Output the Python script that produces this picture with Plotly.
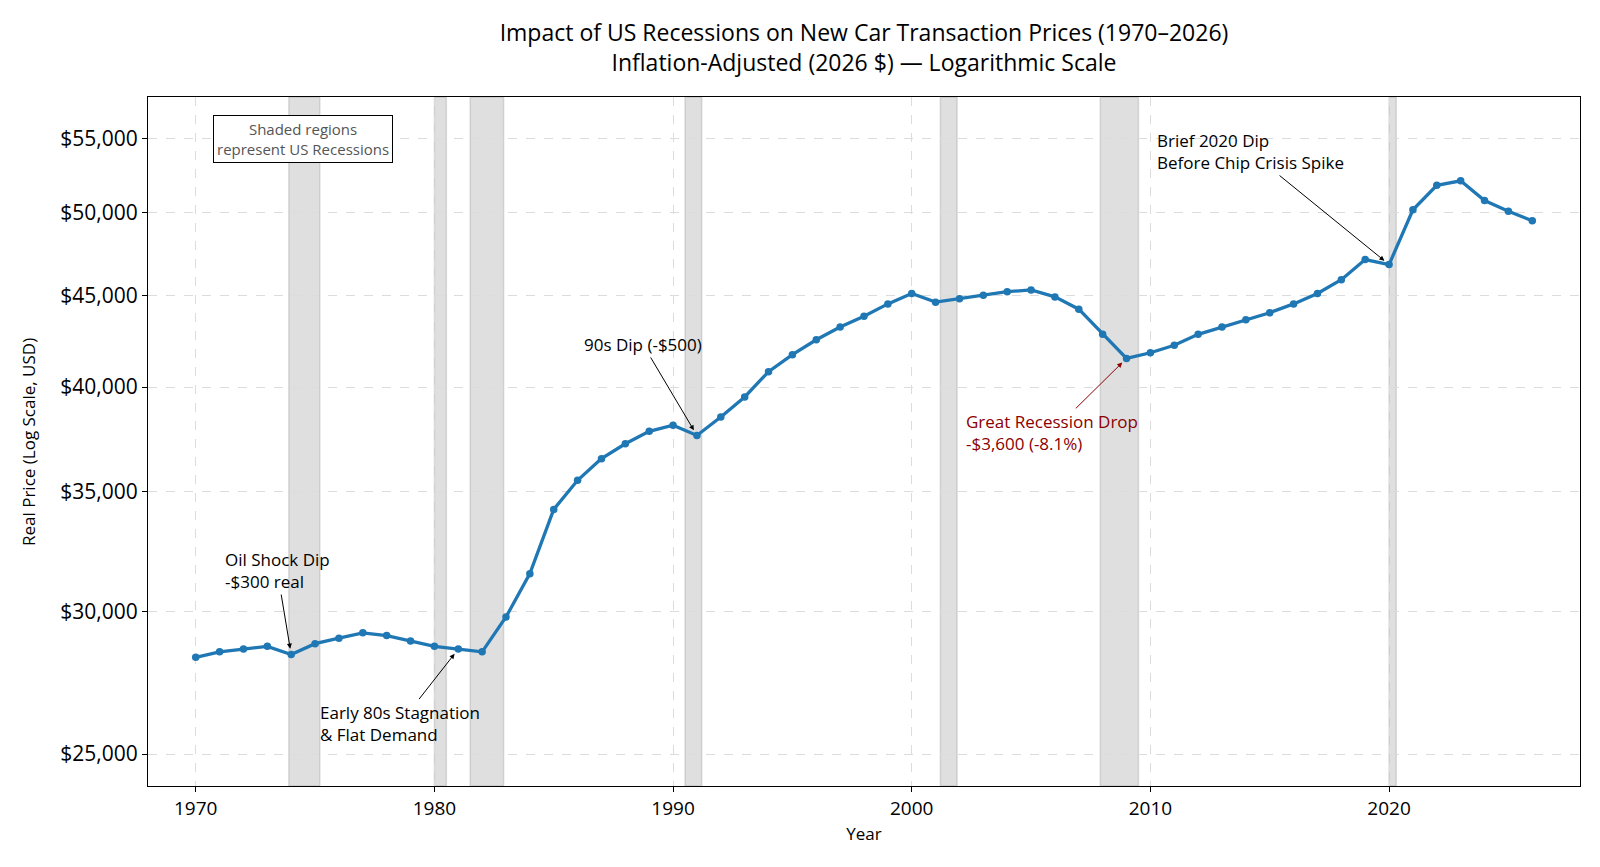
import math
import plotly.graph_objects as go

# ---------------- data ----------------
years = list(range(1970, 2027))
real_price = [
    28300, 28500, 28600, 28700, 28400, 28800, 29000, 29200, 29100, 28900,  # 1970-1979
    28700, 28600, 28500, 29800, 31500, 34200, 35500, 36500, 37200, 37800,  # 1980-1989
    38100, 37600, 38500, 39500, 40800, 41700, 42500, 43200, 43800, 44500,  # 1990-1999
    45100, 44600, 44800, 45000, 45200, 45300, 44900, 44200, 42800, 41500,  # 2000-2009
    41800, 42200, 42800, 43200, 43600, 44000, 44500, 45100, 45900, 47100,  # 2010-2019
    46800, 50200, 51800, 52100, 50800, 50100, 49500,                      # 2020-2026
]

recession_start = [1973.9, 1980.0, 1981.5, 1990.5, 2001.2, 2007.9, 2020.0]
recession_end = [1975.2, 1980.5, 1982.9, 1991.2, 2001.9, 2009.5, 2020.3]

y_ticks = [25000, 30000, 35000, 40000, 45000, 50000, 55000]
y_tick_labels = ["$25,000", "$30,000", "$35,000", "$40,000", "$45,000", "$50,000", "$55,000"]
x_ticks = [1970, 1980, 1990, 2000, 2010, 2020]

# annotations: (year, text, dx px, dy px, color)
notes = [
    (1974, "Oil Shock Dip<br>-$300 real", -14, -84, "black"),
    (1981, "Early 80s Stagnation<br>& Flat Demand", -58, 74, "black"),
    (1991, "90s Dip (-$500)", -54, -91, "black"),
    (2009, "Great Recession Drop<br>-$3,600 (-8.1%)", -75, 74, "#8b0000"),
    (2020, "Brief 2020 Dip<br>Before Chip Crisis Spike", -139, -113, "black"),
]

FONT = "Open Sans"

fig = go.Figure()

fig.add_trace(go.Scatter(
    x=years, y=real_price, mode="lines+markers",
    line=dict(color="#1f77b4", width=3.3),
    marker=dict(color="#1f77b4", size=7.5),
    showlegend=False,
))

for s, e in zip(recession_start, recession_end):
    fig.add_shape(type="rect", xref="x", yref="paper", x0=s, x1=e, y0=0, y1=1,
                  fillcolor="rgba(128,128,128,0.25)",
                  line=dict(color="rgba(128,128,128,0.25)", width=1.5),
                  layer="below")

price_by_year = dict(zip(years, real_price))
for yr, txt, dx, dy, col in notes:
    fig.add_annotation(
        x=yr, y=math.log10(price_by_year[yr]), xref="x", yref="y",
        text=txt, align="left", showarrow=True, ax=dx, ay=dy,
        arrowhead=2, arrowsize=1, arrowwidth=1, arrowcolor=col, standoff=6,
        font=dict(family=FONT, size=17, color=col),
    )

fig.add_annotation(
    x=(302.7 - 148) / 1432, y=(786 - 139.2) / 689, xref="paper", yref="paper",
    text="Shaded regions<br>represent US Recessions", showarrow=False,
    xanchor="center", yanchor="middle", align="center",
    font=dict(family=FONT, size=15, color="#555555"),
    bgcolor="white", bordercolor="black", borderwidth=1, borderpad=3,
)

# y-axis title placed as rotated text
fig.add_annotation(
    x=(28.5 - 148) / 1432, y=0.5, xref="paper", yref="paper",
    text="Real Price (Log Scale, USD)", textangle=-90, showarrow=False,
    xanchor="center", yanchor="middle",
    font=dict(family=FONT, size=17, color="black"),
)

fig.update_layout(
    width=1600, height=867,
    margin=dict(l=148, r=20, t=97, b=81),
    paper_bgcolor="white", plot_bgcolor="white",
    font=dict(family=FONT, color="black"),
    title=dict(
        text="Impact of US Recessions on New Car Transaction Prices (1970\u20132026)<br>"
             "Inflation-Adjusted (2026 $) \u2014 Logarithmic Scale",
        x=0.54, xanchor="center", y=1 - 41 / 867, yanchor="middle",
        font=dict(family=FONT, size=23, color="black"),
    ),
    xaxis=dict(
        range=[1968, 2028], tickvals=x_ticks, ticks="outside", ticklen=5,
        tickcolor="black", showline=True, linecolor="black", linewidth=1.2, mirror=True,
        showgrid=True, gridcolor="#dcdcdc", griddash="dash", gridwidth=1,
        tickfont=dict(family=FONT, size=19), zeroline=False,
        title=dict(text="Year", font=dict(family=FONT, size=17), standoff=8),
    ),
    yaxis=dict(
        type="log", range=[math.log10(24000), math.log10(58000)],
        tickvals=y_ticks, ticktext=y_tick_labels, ticks="outside", ticklen=5,
        tickcolor="black", showline=True, linecolor="black", linewidth=1.2, mirror=True,
        showgrid=True, gridcolor="#dcdcdc", griddash="dash", gridwidth=1,
        tickfont=dict(family=FONT, size=21), zeroline=False,
    ),
)

fig.write_html("out.html")
